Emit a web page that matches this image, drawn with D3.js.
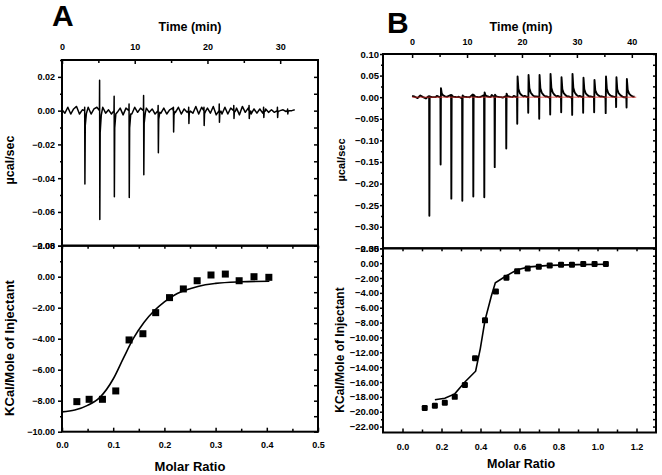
<!DOCTYPE html>
<html><head><meta charset="utf-8">
<script src="https://cdn.jsdelivr.net/npm/d3@7"></script>
<style>
body{margin:0;background:#fff;}
svg{display:block;}
text{font-family:"Liberation Sans",Arial,sans-serif;font-weight:bold;fill:#000;}
</style></head>
<body><svg id="c" width="662" height="475"></svg>
<script>
// ---------- Panel A data ----------
const injTimeA = [3.1,5.15,7.15,9.2,11.2,13.2,15.3,17.4,19.5,21.6,23.6,25.7,27.7,29.6,31.0];
const injDownA = [-0.0435,-0.0645,-0.051,-0.0514,-0.038,-0.025,-0.0127,-0.0076,-0.0088,-0.0069,-0.0047,-0.0047,-0.004,-0.004,-0.002];
const injUpA   = [0.002,0.018,0.0085,0.004,0.009,0.003,0.002,0.002,0.002,0.004,0.003,0.003,0.002,0.002,0.001];
const noiseA = [0.0005,-0.0015,0.002,-0.002,0.001,0.0025,-0.002,0.0005,-0.0015,0.002,
-0.002,0.001,0.002,-0.0025,0.002,-0.0015,0.0005,-0.002,0.0025,-0.001,
0.0015,-0.0025,0.0015,0.0005,-0.002,0.002,-0.001,0.0015,-0.002,0.0015,
-0.001,0.001,-0.002,0.0005,-0.0015,0.0015,-0.002,0.0005,0.0015,-0.001,
0.002,-0.002,0.001,-0.001,0.0025,-0.0015,0.0025,-0.002,0.002,-0.0025,
0.0015,-0.0015,0.0025,-0.0025,0.001,-0.002,0.002,-0.002,0.0015,-0.002,
0.0015,-0.0025,0.0025,-0.001,0.0015,-0.002,0.001,-0.0015,0.001,-0.0015,
0.001,-0.001,0.0005,-0.001,0.001,0.0,0.0005,-0.0005,0.001,0.0,0.0005];
const noiseStepA = 0.4;
const ratioA = [0.029,0.053,0.079,0.105,0.131,0.158,0.183,0.21,0.237,0.264,0.291,0.319,0.346,0.375,0.404];
const heatA  = [-8.06,-7.91,-7.91,-7.37,-4.08,-3.68,-2.32,-1.35,-0.79,-0.26,0.11,0.17,-0.26,0.0,-0.04];
const fitRatioA = [0,0.025,0.05,0.075,0.1,0.12,0.14,0.16,0.18,0.2,0.22,0.25,0.28,0.3,0.35,0.405];
const fitHeatA  = [-8.72,-8.6,-8.3,-7.75,-6.6,-5.25,-3.95,-2.95,-2.2,-1.62,-1.18,-0.78,-0.52,-0.43,-0.33,-0.29];

// ---------- Panel B data ----------
const injTimeB = [3.1,5.15,7.1,9.1,11.1,13.1,15.0,17.1,19.1,21.1,23.1,25.1,27.1,29.1,31.1,33.1,35.2,37.1,39.0];
const injDownB = [-0.2746,-0.156,-0.235,-0.24,-0.23,-0.232,-0.162,-0.119,-0.0615,-0.036,-0.05,-0.04,-0.035,-0.041,-0.036,-0.035,-0.037,-0.023,-0.024];
const injUpB   = [0.002,0.021,0.005,0.004,0.006,0.011,0.006,0.008,0.048,0.0515,0.0515,0.054,0.046,0.054,0.045,0.040,0.048,0.046,0.042];
const noiseB = [0.003,0.001,-0.002,0.004,0.0,-0.003,0.002,0.005,-0.001,0.003,
0.0,0.004,-0.002,0.002,0.005,-0.001,0.003,0.001,-0.002,0.004,
0.002,0.0,0.006,-0.002,0.003,0.001,0.004,-0.001,0.002,0.005,
0.0,0.003,0.006,-0.001,0.002,0.004,0.001,0.003,0.0,0.002,
0.001,0.003,0.0,0.002,-0.001,0.002,0.001,0.003,0.0,0.002,
-0.001,0.002,0.001,0.003,0.0,0.002,0.001,0.002,-0.001,0.002,
0.001,0.003,0.0,0.002,0.001,0.002,0.0,0.003,0.001,0.002,
0.0,0.002,0.001,0.002,0.0,0.001,0.002,0.0,0.001,0.002,
0.0,0.001];
const noiseStepB = 0.5;
const baselineB = [0, 40.8];
const ratioB = [0.114,0.166,0.217,0.268,0.32,0.372,0.423,0.479,0.533,0.588,0.642,0.699,0.755,0.813,0.869,0.927,0.985,1.043];
const heatB  = [-19.5,-19.2,-18.8,-18.0,-16.4,-12.8,-7.7,-3.8,-1.97,-1.1,-0.71,-0.49,-0.3,-0.2,-0.2,-0.1,-0.1,-0.1];
const fitRatioB = [0.166,0.217,0.268,0.32,0.375,0.399,0.423,0.455,0.476,0.533,0.588,0.65,0.755,0.9,1.05];
const fitHeatB  = [-18.4,-18.2,-17.6,-16.0,-14.55,-11.5,-7.7,-4.5,-2.65,-1.7,-0.9,-0.5,-0.3,-0.2,-0.15];

// ---------- tick labels ----------
const timeTicksA = [0,10,20,30];
const timeTicksB = [0,10,20,30,40];
const powerTicksA = [0.02,0.00,-0.02,-0.04,-0.06,-0.08];
const powerTicksB = [0.10,0.05,0.00,-0.05,-0.10,-0.15,-0.20,-0.25,-0.30,-0.35];
const heatTicksA = [2,0,-2,-4,-6,-8,-10];
const heatTicksB = [2,0,-2,-4,-6,-8,-10,-12,-14,-16,-18,-20,-22];
const ratioTicksA = [0,0.1,0.2,0.3,0.4,0.5];
const ratioTicksB = [0,0.2,0.4,0.6,0.8,1.0,1.2];

const svg = d3.select("#c");

// ---------- layout ----------
const A = {x0:62, x1:318, yTop:60, yMid:245.7, yBot:431.7};
const B = {x0:383, x1:656, yTop:54, yMid:248.3, yBot:432.5};

const tA = d3.scaleLinear().domain([0,35.2]).range([A.x0,A.x1]);
const pA = d3.scaleLinear().domain([-0.08,0.03]).range([A.yMid,A.yTop]);
const rA = d3.scaleLinear().domain([0,0.5]).range([A.x0,A.x1]);
const hA = d3.scaleLinear().domain([-10,2]).range([A.yBot,A.yMid]);

const tB = d3.scaleLinear().domain([-5.3,44.4]).range([B.x0,B.x1]);
const pB = d3.scaleLinear().domain([-0.35,0.10]).range([B.yMid,B.yTop]);
const rB = d3.scaleLinear().domain([-0.1,1.3]).range([B.x0,B.x1]);
const hB = d3.scaleLinear().domain([-22.8,2]).range([B.yBot,B.yMid]);

function buildTrace(noise, step, times, downs, ups, shape){
  const pts = [];
  noise.forEach((v,i)=>{
    const t = i*step;
    if(!times.some(t0 => t > t0-0.05 && t < t0+shape.gap)) pts.push([t,v]);
  });
  times.forEach((t0,i)=>{
    shape.fn(t0, downs[i], ups[i]).forEach(p=>pts.push(p));
  });
  pts.sort((a,b)=>a[0]-b[0]);
  return pts;
}
const shapeA = {gap:0.3, fn:(t,d,u)=>[[t,0],[t+0.02,u],[t+0.05,d],[t+0.1,d*0.2],[t+0.25,d*0.04]]};
const shapeB = {gap:1.3, fn:(t,d,u)=>[[t,0],[t+0.04,d],[t+0.1,u],[t+0.25,u*0.4],[t+0.5,u*0.2],[t+0.85,u*0.09],[t+1.2,u*0.03]]};

const traceA = buildTrace(noiseA, noiseStepA, injTimeA, injDownA, injUpA, shapeA);
const traceB = buildTrace(noiseB, noiseStepB, injTimeB, injDownB, injUpB, shapeB);

// ---------- drawing helpers ----------
function minors(majors, n){
  const out=[]; const s=(majors[1]-majors[0])/n;
  for(let i=0;i<majors.length-1;i++) for(let k=1;k<n;k++) out.push(majors[i]+s*k);
  return out;
}
function axis(gen, pos, values, fmt, size, pad, fs){
  const g = svg.append("g").attr("transform", pos);
  const ax = gen.tickValues(values).tickSize(size).tickSizeOuter(0).tickPadding(pad);
  ax.tickFormat(fmt || (()=>""));
  g.call(ax);
  g.select(".domain").remove();
  g.selectAll("line").attr("stroke","#000").attr("stroke-width",1.5);
  g.selectAll("text").attr("font-size",fs||9).attr("font-family","Liberation Sans, Arial").attr("font-weight","bold").attr("fill","#000");
  return g;
}
function frame(x0,y0,x1,y1){
  svg.append("rect").attr("x",x0).attr("y",y0).attr("width",x1-x0).attr("height",y1-y0)
    .attr("fill","none").attr("stroke","#000").attr("stroke-width",2);
}
const f2 = d3.format(".2f"), f1 = d3.format(".1f"), f0 = d3.format("d");

// ---------- Panel A ----------
svg.append("path").datum(traceA)
  .attr("d", d3.line().x(d=>tA(d[0])).y(d=>pA(d[1])))
  .attr("fill","none").attr("stroke","#000").attr("stroke-width",1.5).attr("stroke-linejoin","round");
svg.append("path").datum(fitRatioA.map((r,i)=>[r,fitHeatA[i]]))
  .attr("d", d3.line().curve(d3.curveMonotoneX).x(d=>rA(d[0])).y(d=>hA(d[1])))
  .attr("fill","none").attr("stroke","#000").attr("stroke-width",1.6);
svg.selectAll(".ptA").data(ratioA.map((r,i)=>[r,heatA[i]])).enter().append("rect")
  .attr("x",d=>rA(d[0])-3.5).attr("y",d=>hA(d[1])-3.5).attr("width",7).attr("height",7).attr("fill","#000");

frame(A.x0,A.yTop,A.x1,A.yMid);
frame(A.x0,A.yMid,A.x1,A.yBot);
axis(d3.axisTop(tA), `translate(0,${A.yTop})`, timeTicksA, f0, -4, 10);
axis(d3.axisTop(tA), `translate(0,${A.yTop})`, minors(timeTicksA.concat([40]),2).filter(v=>v<35), null, -3, 0);
axis(d3.axisLeft(pA), `translate(${A.x0},0)`, powerTicksA, f2, 4, 3);
axis(d3.axisLeft(pA), `translate(${A.x0},0)`, minors(powerTicksA,2).concat([0.03]), null, 2, 0);
axis(d3.axisRight(pA), `translate(${A.x1},0)`, powerTicksA.concat(minors(powerTicksA,2)), null, -4, 0);
axis(d3.axisLeft(hA), `translate(${A.x0},0)`, heatTicksA, f2, 4, 3);
axis(d3.axisLeft(hA), `translate(${A.x0},0)`, minors(heatTicksA,2), null, 2, 0);
axis(d3.axisRight(hA), `translate(${A.x1},0)`, heatTicksA.concat(minors(heatTicksA,2)), null, -4, 0);
axis(d3.axisBottom(rA), `translate(0,${A.yBot})`, ratioTicksA, f1, -4, 10);
axis(d3.axisBottom(rA), `translate(0,${A.yBot})`, minors(ratioTicksA,2), null, -3, 0);
axis(d3.axisTop(rA), `translate(0,${A.yMid})`, ratioTicksA.concat(minors(ratioTicksA,2)), null, -3, 0);

// ---------- Panel B ----------
svg.append("path").datum(traceB)
  .attr("d", d3.line().x(d=>tB(d[0])).y(d=>pB(d[1])))
  .attr("fill","none").attr("stroke","#000").attr("stroke-width",1.9).attr("stroke-linejoin","round");
svg.append("line").attr("x1",tB(baselineB[0])).attr("x2",tB(baselineB[1]))
  .attr("y1",pB(0)).attr("y2",pB(0)).attr("stroke","#e0302a").attr("stroke-width",0.8);
svg.append("path").datum(fitRatioB.map((r,i)=>[r,fitHeatB[i]]))
  .attr("d", d3.line().x(d=>rB(d[0])).y(d=>hB(d[1])))
  .attr("fill","none").attr("stroke","#000").attr("stroke-width",1.6);
svg.selectAll(".ptB").data(ratioB.map((r,i)=>[r,heatB[i]])).enter().append("rect")
  .attr("x",d=>rB(d[0])-3).attr("y",d=>hB(d[1])-3).attr("width",6).attr("height",6)
  .attr("rx",1.2).attr("fill","#000");

frame(B.x0,B.yTop,B.x1,B.yMid);
frame(B.x0,B.yMid,B.x1,B.yBot);
axis(d3.axisTop(tB), `translate(0,${B.yTop})`, timeTicksB, f0, -4, 9);
axis(d3.axisTop(tB), `translate(0,${B.yTop})`, minors(timeTicksB,2), null, -3, 0);
axis(d3.axisLeft(pB), `translate(${B.x0},0)`, powerTicksB, f2, 3, 1, 9.5);
axis(d3.axisLeft(pB), `translate(${B.x0},0)`, minors(powerTicksB,2), null, 2, 0);
axis(d3.axisRight(pB), `translate(${B.x1},0)`, powerTicksB.concat(minors(powerTicksB,2)), null, -3, 0);
axis(d3.axisLeft(hB), `translate(${B.x0},0)`, heatTicksB, f2, 3, 1, 9.5);
axis(d3.axisLeft(hB), `translate(${B.x0},0)`, minors(heatTicksB,2), null, 2, 0);
axis(d3.axisRight(hB), `translate(${B.x1},0)`, heatTicksB.concat(minors(heatTicksB,2)), null, -3, 0);
axis(d3.axisBottom(rB), `translate(0,${B.yBot})`, ratioTicksB, f1, -4, 11);
axis(d3.axisBottom(rB), `translate(0,${B.yBot})`, minors(ratioTicksB,2), null, -3, 0);
axis(d3.axisTop(rB), `translate(0,${B.yMid})`, ratioTicksB.concat(minors(ratioTicksB,2)), null, -3, 0);

// ---------- titles ----------
function txt(x,y,s,fs,rot,anchor){
  const t = svg.append("text").attr("font-size",fs).attr("text-anchor",anchor||"middle").text(s);
  if(rot) t.attr("transform",`translate(${x},${y}) rotate(-90)`); else t.attr("x",x).attr("y",y);
  return t;
}
txt(52,26,"A",30,false,"start");
txt(387,33,"B",30,false,"start");
txt(190,31,"Time (min)",12.5);
txt(521,31,"Time (min)",12.5);
txt(190,471,"Molar Ratio",13);
txt(521,468,"Molar Ratio",12.5);
txt(14,160,"µcal/sec",12.5,true);
txt(345,160,"µcal/sec",11,true);
txt(14,348,"KCal/Mole of Injectant",13,true);
txt(344,350,"KCal/Mole of Injectant",12,true);
</script></body></html>
